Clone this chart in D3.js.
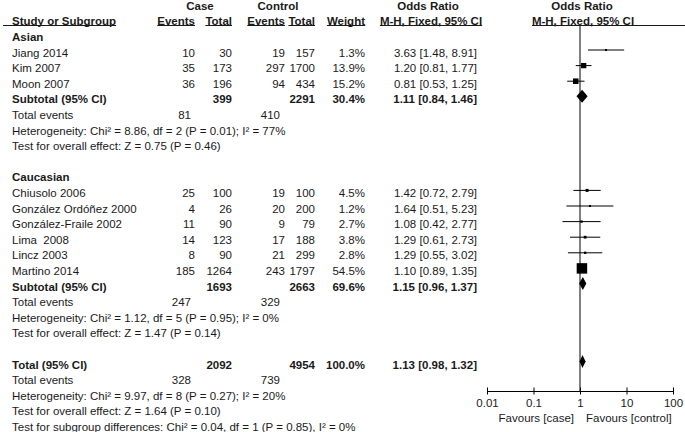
<!DOCTYPE html>
<html>
<head>
<meta charset="utf-8">
<script src="https://cdn.jsdelivr.net/npm/d3@7"></script>
<style>
body { margin: 0; background: #fff; }
svg text { font-family: "Liberation Sans", Arial, sans-serif; font-size: 11.5px; fill: #1a1a1a; white-space: pre; }
svg text.b { font-weight: bold; }
</style>
</head>
<body>
<svg id="viz" width="685" height="432"></svg>
<script>
// study level data
var groups = ["Asian", "Caucasian"];
var studies = ["Jiang 2014", "Kim 2007", "Moon 2007", "Chiusolo 2006", "González Ordóñez 2000",
    "González-Fraile 2002", "Lima  2008", "Lincz 2003", "Martino 2014"];
var studyGroup = [0, 0, 0, 1, 1, 1, 1, 1, 1];
var caseEvents = [10, 35, 36, 25, 4, 11, 14, 8, 185];
var caseTotal = [30, 173, 196, 100, 26, 90, 123, 90, 1264];
var ctrlEvents = [19, 297, 94, 19, 20, 9, 17, 21, 243];
var ctrlTotal = [157, 1700, 434, 100, 200, 79, 188, 299, 1797];
var weights = [1.3, 13.9, 15.2, 4.5, 1.2, 2.7, 3.8, 2.8, 54.5];
var orVal = [3.63, 1.20, 0.81, 1.42, 1.64, 1.08, 1.29, 1.29, 1.10];
var orLow = [1.48, 0.81, 0.53, 0.72, 0.51, 0.42, 0.61, 0.55, 0.89];
var orHigh = [8.91, 1.77, 1.25, 2.79, 5.23, 2.77, 2.73, 3.02, 1.35];

// subgroup totals
var subCaseTotal = [399, 1693];
var subCtrlTotal = [2291, 2663];
var subWeight = [30.4, 69.6];
var subOR = [1.11, 1.15];
var subLow = [0.84, 0.96];
var subHigh = [1.46, 1.37];
var subCaseEvents = [81, 247];
var subCtrlEvents = [410, 329];
var subHet = ["Heterogeneity: Chi² = 8.86, df = 2 (P = 0.01); I² = 77%",
    "Heterogeneity: Chi² = 1.12, df = 5 (P = 0.95); I² = 0%"];
var subTest = ["Test for overall effect: Z = 0.75 (P = 0.46)",
    "Test for overall effect: Z = 1.47 (P = 0.14)"];

// overall
var totCaseTotal = 2092, totCtrlTotal = 4954, totWeight = 100.0;
var totOR = 1.13, totLow = 0.98, totHigh = 1.32;
var totCaseEvents = 328, totCtrlEvents = 739;
var totHet = "Heterogeneity: Chi² = 9.97, df = 8 (P = 0.27); I² = 20%";
var totTest = "Test for overall effect: Z = 1.64 (P = 0.10)";
var subDiff = "Test for subgroup differences: Chi² = 0.04, df = 1 (P = 0.85), I² = 0%";

var tickVals = [0.01, 0.1, 1, 10, 100];
var tickLabels = ["0.01", "0.1", "1", "10", "100"];
var favours = ["Favours [case]", "Favours [control]"];

var svg = d3.select("#viz");
var rowY = function(i){ return 52.5 + 15.6 * i; };
var x = d3.scaleLog().domain([0.01, 100]).range([487, 673]);
var col = { name: 12, cEv: 195, cTot: 232, kEv: 285, kTot: 315, w: 365, or: 477, cEvT: 191, kEvT: 280 };

var fmt2 = d3.format(".2f");
var orText = function(v, l, h){ return fmt2(v) + " [" + fmt2(l) + ", " + fmt2(h) + "]"; };

var txt = function(xp, row, s, anchor, bold){
    return svg.append("text")
        .attr("x", xp).attr("y", rowY(row) + 4)
        .attr("text-anchor", anchor || "start")
        .attr("class", bold ? "b" : null)
        .text(s);
};

// build the row list (row 0 = first study)
var rows = [];
var r = -1;
groups.forEach(function(g, gi){
    rows.push({ type: "group", row: r++, label: g });
    studies.forEach(function(s, i){
        if(studyGroup[i] === gi) rows.push({ type: "study", row: r++, i: i });
    });
    rows.push({ type: "sub", row: r++, g: gi });
    rows.push({ type: "subEv", row: r++, g: gi });
    rows.push({ type: "line", row: r++, label: subHet[gi] });
    rows.push({ type: "line", row: r++, label: subTest[gi] });
    r++;
});
rows.push({ type: "total", row: r++ });
rows.push({ type: "totEv", row: r++ });
rows.push({ type: "line", row: r++, label: totHet });
rows.push({ type: "line", row: r++, label: totTest });
rows.push({ type: "line", row: r++, label: subDiff });

// headers
txt(200, -3, "Case", "middle", true);
txt(278, -3, "Control", "middle", true);
txt(428, -3, "Odds Ratio", "middle", true);
txt(582, -3, "Odds Ratio", "middle", true);
var heads = [
    { x: col.name, s: "Study or Subgroup", a: "start", x0: 3 },
    { x: col.cEv, s: "Events", a: "end" },
    { x: col.cTot, s: "Total", a: "end" },
    { x: col.kEv, s: "Events", a: "end" },
    { x: col.kTot, s: "Total", a: "end" },
    { x: col.w, s: "Weight", a: "end" },
    { x: 431, s: "M-H, Fixed, 95% CI", a: "middle" },
    { x: 583, s: "M-H, Fixed, 95% CI", a: "middle", x0: 532, x1: 685 }
];
heads.forEach(function(h){
    var t = txt(h.x, -2, h.s, h.a, true);
    var bb = t.node().getBBox();
    svg.append("line")
        .attr("x1", h.x0 !== undefined ? h.x0 : bb.x)
        .attr("x2", h.x1 !== undefined ? h.x1 : bb.x + bb.width)
        .attr("y1", 25.5).attr("y2", 25.5)
        .attr("stroke", "#1a1a1a").attr("stroke-width", 1);
});

// null line
svg.append("line")
    .attr("x1", x(1)).attr("x2", x(1))
    .attr("y1", 26).attr("y2", 391)
    .attr("stroke", "#000").attr("stroke-width", 1);

var diamond = function(row, v, l, h){
    var cy = rowY(row) - 3;
    svg.append("path")
        .attr("d", "M" + x(l) + "," + cy + "L" + x(v) + "," + (cy - 6.5) +
            "L" + x(h) + "," + cy + "L" + x(v) + "," + (cy + 6.5) + "Z")
        .attr("fill", "#000");
};

rows.forEach(function(d){
    if(d.type === "group"){
        txt(col.name, d.row, d.label, "start", true);
    } else if(d.type === "study"){
        var i = d.i;
        txt(col.name, d.row, studies[i]);
        txt(col.cEv, d.row, caseEvents[i], "end");
        txt(col.cTot, d.row, caseTotal[i], "end");
        txt(col.kEv, d.row, ctrlEvents[i], "end");
        txt(col.kTot, d.row, ctrlTotal[i], "end");
        txt(col.w, d.row, weights[i].toFixed(1) + "%", "end");
        txt(col.or, d.row, orText(orVal[i], orLow[i], orHigh[i]), "end");
        var cy = rowY(d.row) - 2.5;
        svg.append("line")
            .attr("x1", x(orLow[i])).attr("x2", x(orHigh[i]))
            .attr("y1", cy).attr("y2", cy)
            .attr("stroke", "#000").attr("stroke-width", 1);
        var s = Math.max(2, 1.42 * Math.sqrt(weights[i]));
        svg.append("rect")
            .attr("x", x(orVal[i]) - s / 2).attr("y", cy - s / 2)
            .attr("width", s).attr("height", s)
            .attr("fill", "#000");
    } else if(d.type === "sub"){
        var g = d.g;
        txt(col.name, d.row, "Subtotal (95% CI)", "start", true);
        txt(col.cTot, d.row, subCaseTotal[g], "end", true);
        txt(col.kTot, d.row, subCtrlTotal[g], "end", true);
        txt(col.w, d.row, subWeight[g].toFixed(1) + "%", "end", true);
        txt(col.or, d.row, orText(subOR[g], subLow[g], subHigh[g]), "end", true);
        diamond(d.row, subOR[g], subLow[g], subHigh[g]);
    } else if(d.type === "subEv"){
        txt(col.name, d.row, "Total events");
        txt(col.cEvT, d.row, subCaseEvents[d.g], "end");
        txt(col.kEvT, d.row, subCtrlEvents[d.g], "end");
    } else if(d.type === "line"){
        txt(col.name, d.row, d.label);
    } else if(d.type === "total"){
        txt(col.name, d.row, "Total (95% CI)", "start", true);
        txt(col.cTot, d.row, totCaseTotal, "end", true);
        txt(col.kTot, d.row, totCtrlTotal, "end", true);
        txt(col.w, d.row, totWeight.toFixed(1) + "%", "end", true);
        txt(col.or, d.row, orText(totOR, totLow, totHigh), "end", true);
        diamond(d.row, totOR, totLow, totHigh);
    } else if(d.type === "totEv"){
        txt(col.name, d.row, "Total events");
        txt(col.cEvT, d.row, totCaseEvents, "end");
        txt(col.kEvT, d.row, totCtrlEvents, "end");
    }
});

// log axis
var axis = d3.axisBottom(x)
    .tickValues(tickVals)
    .tickFormat(function(d, i){ return tickLabels[i]; })
    .tickSize(3)
    .tickSizeOuter(0);
var ax = svg.append("g").attr("transform", "translate(0,391)").call(axis);
ax.select(".domain").attr("stroke", "#000");
ax.selectAll(".tick line").attr("y1", -3.5).attr("y2", 3.5).attr("stroke", "#000");
ax.selectAll(".tick text")
    .attr("y", 8).attr("dy", "0.71em")
    .style("font-family", "'Liberation Sans', Arial, sans-serif")
    .style("font-size", "11.5px").attr("fill", "#1a1a1a");

svg.append("text").attr("x", 574).attr("y", 422).attr("text-anchor", "end").text(favours[0]);
svg.append("text").attr("x", 586).attr("y", 422).attr("text-anchor", "start").text(favours[1]);
</script>
</body>
</html>
